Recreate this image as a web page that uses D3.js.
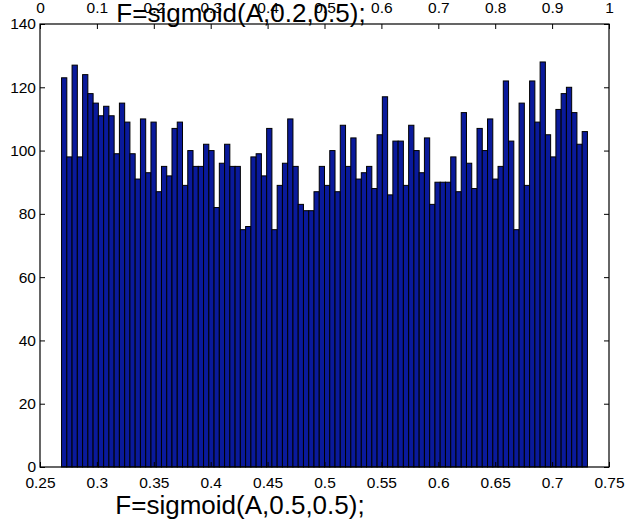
<!DOCTYPE html>
<html>
<head>
<meta charset="utf-8">
<script src="https://cdn.jsdelivr.net/npm/d3@7/dist/d3.min.js"></script>
<style>
  html, body { margin: 0; padding: 0; background: #fff; }
  svg { display: block; font-family: "Liberation Sans", Arial, Helvetica, sans-serif; }
</style>
</head>
<body>
<svg id="chart" width="631" height="525"></svg>
<script>
// ---- data ----
const binRange = [0.26894, 0.73106];   // histogram span (100 equal bins)
const counts = [
  123, 98, 127, 98, 124, 118, 115, 111, 114, 111,
  99, 115, 109, 99, 91, 110, 93, 109, 87, 95,
  92, 107, 109, 89, 100, 95, 95, 102, 100, 82,
  96, 102, 95, 95, 75, 76, 98, 99, 92, 107,
  75, 89, 96, 110, 95, 83, 81, 81, 87, 95,
  89, 100, 87, 108, 95, 104, 91, 93, 95, 88,
  105, 117, 86, 103, 103, 89, 108, 100, 93, 104,
  83, 90, 90, 90, 98, 87, 112, 96, 88, 107,
  100, 110, 91, 95, 122, 103, 75, 115, 89, 122,
  109, 128, 105, 98, 113, 118, 120, 112, 102, 106
];
const bottomTicks = [0.25, 0.3, 0.35, 0.4, 0.45, 0.5, 0.55, 0.6, 0.65, 0.7, 0.75];
const topTicks = [0, 0.1, 0.2, 0.3, 0.4, 0.5, 0.6, 0.7, 0.8, 0.9, 1];
const yTicks = [0, 20, 40, 60, 80, 100, 120, 140];
const topTitle = "F=sigmoid(A,0.2,0.5);";
const bottomTitle = "F=sigmoid(A,0.5,0.5);";

// ---- layout ----
const svg = d3.select("#chart");
const L = 40, R = 609, T = 24, B = 467;
const x = d3.scaleLinear().domain([0.25, 0.75]).range([L, R]);
const xTop = d3.scaleLinear().domain([0, 1]).range([L, R]);
const y = d3.scaleLinear().domain([0, 140]).range([B, T]);
const nb = counts.length;
const bw = (binRange[1] - binRange[0]) / nb;

// bars
svg.append("g").selectAll("rect").data(counts).join("rect")
  .attr("x", (d, i) => x(binRange[0] + i * bw))
  .attr("width", (d, i) => x(binRange[0] + (i + 1) * bw) - x(binRange[0] + i * bw))
  .attr("y", d => y(d))
  .attr("height", d => y(0) - y(d))
  .attr("fill", "#0a1a9b")
  .attr("stroke", "#000")
  .attr("stroke-width", 1);

const fs = 15.5, tl = 5;
function styleAxis(g) {
  g.select(".domain").remove();
  g.selectAll(".tick line").attr("stroke", "#000");
  g.selectAll(".tick text").attr("fill", "#000").attr("font-size", fs);
}
// bottom axis
svg.append("g").attr("transform", `translate(0,${B})`)
  .call(d3.axisBottom(x).tickValues(bottomTicks).tickSizeInner(-tl).tickSizeOuter(0).tickPadding(10)
    .tickFormat(d3.format("")))
  .call(styleAxis);
// top axis (second axes 0..1)
svg.append("g").attr("transform", `translate(0,${T})`)
  .call(d3.axisTop(xTop).tickValues(topTicks).tickSizeInner(-tl).tickSizeOuter(0).tickPadding(11)
    .tickFormat(d3.format("")))
  .call(styleAxis);
// left axis
svg.append("g").attr("transform", `translate(${L},0)`)
  .call(d3.axisLeft(y).tickValues(yTicks).tickSizeInner(-tl).tickSizeOuter(0).tickPadding(4))
  .call(styleAxis);
// right ticks (no labels)
svg.append("g").attr("transform", `translate(${R},0)`)
  .call(d3.axisRight(y).tickValues(yTicks).tickSizeInner(-tl).tickSizeOuter(0).tickFormat(""))
  .call(styleAxis);

// box
svg.append("rect").attr("x", L).attr("y", T).attr("width", R - L).attr("height", B - T)
  .attr("fill", "none").attr("stroke", "#000").attr("stroke-width", 1.2);

// titles
svg.append("text").attr("x", 241).attr("y", 22).attr("text-anchor", "middle")
  .attr("font-size", 26).attr("fill", "#000").text(topTitle);
svg.append("text").attr("x", 240).attr("y", 514).attr("text-anchor", "middle")
  .attr("font-size", 26).attr("fill", "#000").text(bottomTitle);
</script>
</body>
</html>
